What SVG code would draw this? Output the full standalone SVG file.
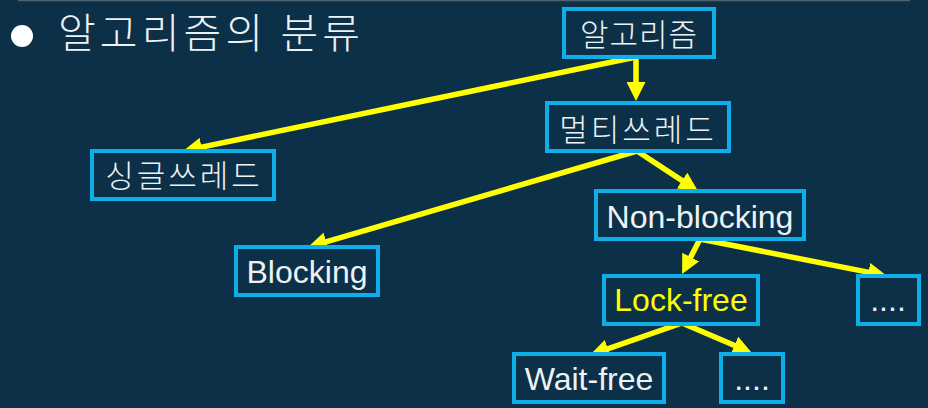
<svg xmlns="http://www.w3.org/2000/svg" width="928" height="408" viewBox="0 0 928 408">
<defs>
<style>
.bg{fill:#0b3047}
.box{fill:#0b3047;stroke:#10aee8;stroke-width:4}
.t{font-family:"Liberation Sans",Arial,sans-serif;font-size:32px;fill:#eef2f5;text-anchor:middle}
.k{font-family:"Noto Sans CJK KR","Noto Sans",sans-serif;font-size:31px;font-weight:300;fill:#eef2f5;text-anchor:middle}
.y{fill:#ffff00}
.c{fill:none;stroke:#ffff00;stroke-width:5.5;stroke-linecap:round;marker-end:url(#ah)}
</style>
<marker id="ah" markerUnits="userSpaceOnUse" markerWidth="19" markerHeight="19" refX="11" refY="9.5" orient="auto" viewBox="0 0 19 19">
<path d="M0,0 L19,9.5 L0,19 z" fill="#ffff00"/>
</marker>
</defs>
<rect class="bg" x="0" y="0" width="928" height="408"/>
<line x1="18" y1="0.5" x2="910" y2="0.5" stroke="#4f626f" stroke-width="1.5"/>
<g id="title">
<circle cx="22" cy="36" r="11" fill="#ffffff"/>
<text x="58" y="48" font-family="'Noto Sans CJK KR','Noto Sans',sans-serif" font-size="41" font-weight="300" fill="#eef2f5" textLength="302" lengthAdjust="spacing">알고리즘의 분류</text>
</g>
<g id="connectors">
<path class="c" d="M636,57 L636,93"/>
<path class="c" d="M636,57 L190.8,149.4"/>
<path class="c" d="M637,151 L691.3,186.6"/>
<path class="c" d="M637,151 L315.7,244.8"/>
<path class="c" d="M700,239 L685.7,266.9"/>
<path class="c" d="M700,239 L879.2,274.4"/>
<path class="c" d="M682,323 L597.6,352.4"/>
<path class="c" d="M682,323 L744.6,349.8"/>
</g>
<g id="n-algorithm">
<rect class="box" x="564" y="9" width="150" height="48"/>
<text class="k" x="639" y="46" letter-spacing="1">알고리즘</text>
</g>
<g id="n-multi">
<rect class="box" x="547" y="103" width="182" height="48"/>
<text class="k" x="638" y="141" letter-spacing="3">멀티쓰레드</text>
</g>
<g id="n-single">
<rect class="box" x="92" y="151" width="182" height="48"/>
<text class="k" x="184" y="187" letter-spacing="3">싱글쓰레드</text>
</g>
<g id="n-nonblocking">
<rect class="box" x="596" y="191" width="208" height="48"/>
<text class="t" x="700" y="228">Non-blocking</text>
</g>
<g id="n-blocking">
<rect class="box" x="236" y="247" width="142" height="48"/>
<text class="t" x="307" y="283">Blocking</text>
</g>
<g id="n-lockfree">
<rect class="box" x="604" y="276" width="154" height="48"/>
<text class="t y" x="681" y="311">Lock-free</text>
</g>
<g id="n-more1">
<rect class="box" x="858" y="276" width="61" height="48"/>
<text class="t" x="888" y="311">....</text>
</g>
<g id="n-waitfree">
<rect class="box" x="514" y="354" width="150" height="48"/>
<text class="t" x="589" y="390">Wait-free</text>
</g>
<g id="n-more2">
<rect class="box" x="721" y="354" width="62" height="48"/>
<text class="t" x="752" y="390">....</text>
</g>
</svg>
